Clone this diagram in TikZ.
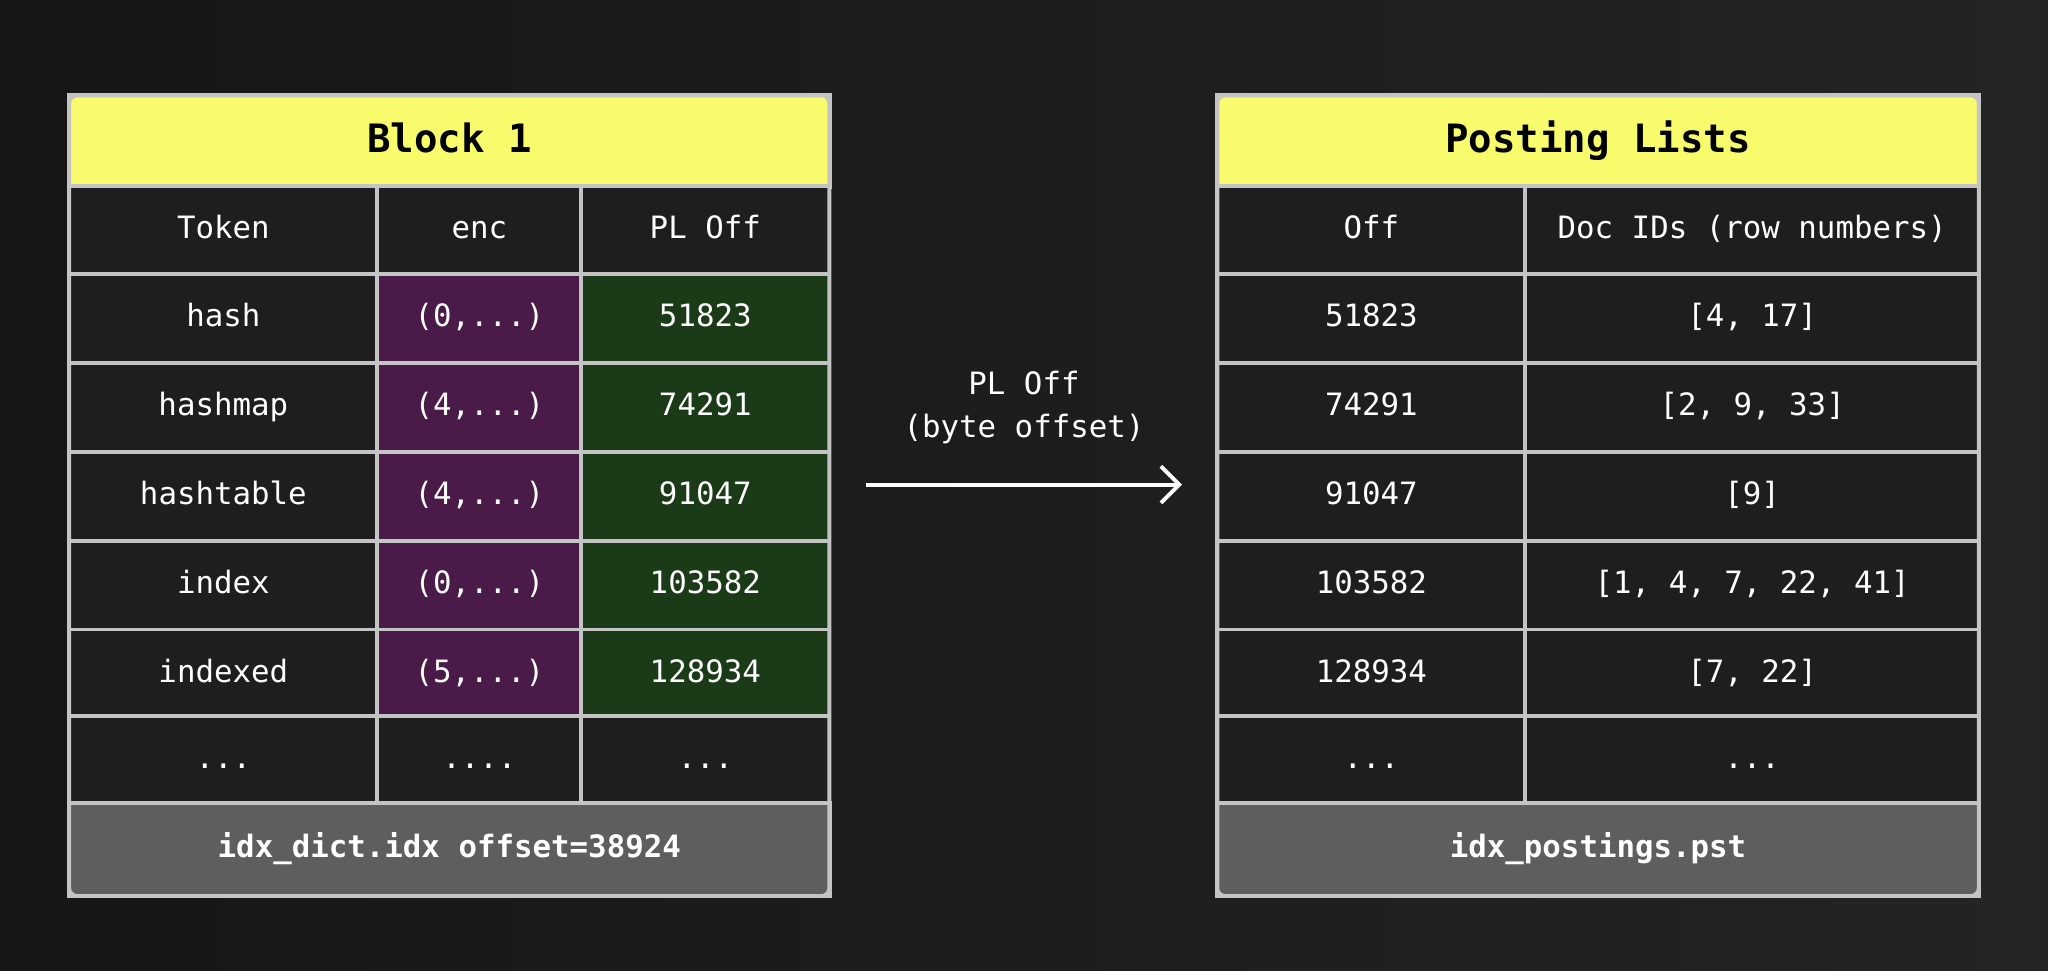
\documentclass[tikz,border=0pt]{standalone}
\usepackage{fontspec}
\setmonofont{DejaVu Sans Mono}
\usetikzlibrary{positioning,arrows.meta}
\definecolor{bgdark}{HTML}{161616}
\definecolor{bglight}{HTML}{242424}
\definecolor{headyel}{HTML}{F8FC6C}
\definecolor{cellbg}{HTML}{1E1E1E}
\definecolor{gridc}{HTML}{C4C4C4}
\definecolor{encpur}{HTML}{4A1B48}
\definecolor{offgrn}{HTML}{1A3A18}
\definecolor{footgr}{HTML}{5E5E5E}
\tikzset{
  cell/.style = {draw=gridc, line width=0.3mm, fill=cellbg, text=white,
    inner sep=0pt, minimum height=6.8mm, text height=1.7mm, text depth=0.45mm,
    font=\ttfamily\fontsize{6.7}{8}\selectfont},
  head/.style = {cell, fill=headyel, text=black, minimum height=7mm, text height=2.2mm,
    font=\ttfamily\bfseries\fontsize{8.5}{10}\selectfont},
  foot/.style = {cell, fill=footgr, minimum height=7.1mm,
    font=\ttfamily\bfseries\fontsize{6.7}{8}\selectfont},
  frame/.style = {draw=gridc, line width=0.3mm, rounded corners=0.6mm}
}
\begin{document}
\begin{tikzpicture}[x=0.01cm,y=-0.01cm]
  \shade[left color=bgdark, right color=bglight] (0,0) rectangle (1568,743);
  \useasboundingbox (0,0) rectangle (1568,743);

  % left table: dictionary block
  \fill[cellbg, rounded corners=0.6mm] (53,73) rectangle (635,686);
  \node[head, minimum width=5.82cm] (blk) at (344,108) {Block 1};
  \node[cell, minimum width=2.36cm] (tokh) at (171,176.5) {Token};
  \node[cell, minimum width=1.56cm] (ench) at (367,176.5) {enc};
  \node[cell, minimum width=1.90cm] (offh) at (540,176.5) {PL Off};
  \foreach \tok/\enc/\off [count=\i] in {hash/{(0,...)}/51823,
      hashmap/{(4,...)}/74291, hashtable/{(4,...)}/91047,
      index/{(0,...)}/103582, indexed/{(5,...)}/128934} {
    \pgfmathsetmacro{\yy}{244+(\i-1)*68}
    \node[cell, minimum width=2.36cm] (tok\i) at (171,\yy) {\tok};
    \node[cell, minimum width=1.56cm, fill=encpur] (enc\i) at (367,\yy) {\enc};
    \node[cell, minimum width=1.90cm, fill=offgrn] (off\i) at (540,\yy) {\off};
  }
  \node[cell, minimum width=2.36cm] (tokd) at (171,582) {...};
  \node[cell, minimum width=1.56cm] (encd) at (367,582) {....};
  \node[cell, minimum width=1.90cm] (offd) at (540,582) {...};
  \node[foot, minimum width=5.82cm] (dictf) at (344,650.5) {idx\_dict.idx offset=38924};
  \draw[frame] (53,73) rectangle (635,686);

  % right table: posting lists
  \fill[cellbg, rounded corners=0.6mm] (932,73) rectangle (1515,686);
  \node[head, minimum width=5.83cm] (pst) at (1223.5,108) {Posting Lists};
  \node[cell, minimum width=2.36cm] (poffh) at (1050,176.5) {Off};
  \node[cell, minimum width=3.47cm] (pidsh) at (1341.5,176.5) {Doc IDs (row numbers)};
  \foreach \off/\ids [count=\i] in {51823/{[4, 17]}, 74291/{[2, 9, 33]},
      91047/{[9]}, 103582/{[1, 4, 7, 22, 41]}, 128934/{[7, 22]}} {
    \pgfmathsetmacro{\yy}{244+(\i-1)*68}
    \node[cell, minimum width=2.36cm] (poff\i) at (1050,\yy) {\off};
    \node[cell, minimum width=3.47cm] (pids\i) at (1341.5,\yy) {\ids};
  }
  \node[cell, minimum width=2.36cm] (poffd) at (1050,582) {...};
  \node[cell, minimum width=3.47cm] (pidsd) at (1341.5,582) {...};
  \node[foot, minimum width=5.83cm] (pstf) at (1223.5,650.5) {idx\_postings.pst};
  \draw[frame] (932,73) rectangle (1515,686);

  % connector
  \coordinate (arrs) at (663,371);
  \coordinate (arre) at (905,371);
  \draw[white, line width=0.3mm, -{Straight Barb[length=1.4mm,width=2.8mm]}] (arrs) -- (arre);
  \node[text=white, align=center, font=\ttfamily\fontsize{6.7}{9.4}\selectfont]
    (arrl) at (784,312) {PL Off\\(byte offset)};
\end{tikzpicture}
\end{document}
